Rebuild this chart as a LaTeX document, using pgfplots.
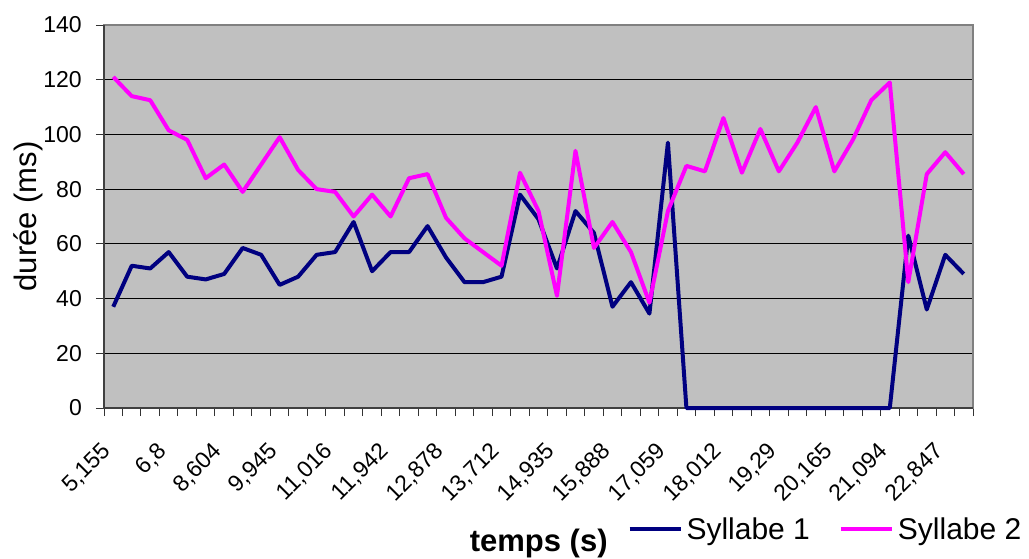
\documentclass[border=0pt]{standalone}
\usepackage{fontspec}
\setmainfont{Liberation Sans}
\usepackage{pgfplots}
\usepackage{pgfplotstable}
\pgfplotsset{compat=1.18}

\definecolor{fondgris}{RGB}{192,192,192}
\definecolor{bordgris}{RGB}{128,128,128}
\definecolor{syllabeun}{RGB}{0,0,128}
\definecolor{syllabedeux}{RGB}{255,0,255}

% i = category index, s1 = Syllabe 1, s2 = Syllabe 2 (ms)
\pgfplotstableread{
i  s1    s2
0  37    121
1  52    114
2  51    112.5
3  57    101.5
4  48    98
5  47    84
6  49    89
7  58.5  79
8  56    89
9  45    99
10 48    87
11 56    80
12 57    79
13 68    70
14 50    78
15 57    70
16 57    84
17 66.5  85.5
18 55    69.5
19 46    62
20 46    57
21 48    52
22 78    86
23 69    72
24 51    41
25 72    94
26 64    58.5
27 37    68
28 46    57
29 34.5  38.5
30 97    72
31 0     88.5
32 0     86.5
33 0     106
34 0     86
35 0     102
36 0     86.5
37 0     97
38 0     110
39 0     86.5
40 0     98
41 0     112.5
42 0     119
43 63    46
44 36    85.5
45 56    93.5
46 49    85.5
}\durees

\begin{document}
\begin{tikzpicture}
\useasboundingbox (0,0) rectangle (1029pt,558pt);
\begin{axis}[
  at={(104pt,150pt)}, anchor=south west,
  width=869pt, height=383pt, scale only axis,
  xmin=-0.5, xmax=46.5, ymin=0, ymax=140,
  clip=false,
  axis background/.style={fill=fondgris},
  axis line style={bordgris, line width=1.2pt},
  tick pos=left,
  tick align=outside,
  major tick length=8pt,
  tick style={black!80, line width=1pt},
  ytick={0,20,...,140},
  ymajorgrids, grid style={black, line width=0.8pt},
  /pgf/number format/assume math mode=true,
  yticklabel style={font=\fontsize{23}{23}\selectfont, inner sep=0pt, anchor=east, xshift=-14pt},
  xtick={-0.5,0.5,...,46.5}, xticklabels={},
  xticklabel style={font=\fontsize{23}{23}\selectfont},
  extra x ticks={0,3,...,45},
  extra x tick labels={{5,155},{6,8},{8,604},{9,945},{11,016},{11,942},{12,878},{13,712},{14,935},{15,888},{17,059},{18,012},{19,29},{20,165},{21,094},{22,847}},
  extra x tick style={major tick length=0pt,
    tick label style={font=\fontsize{23}{23}\selectfont, inner sep=0pt, xshift=-12.5pt, yshift=-33pt, rotate=45, anchor=north east}},
  ylabel={\fontsize{31}{31}\selectfont durée (ms)},
  y label style={at={(axis description cs:-0.0771,0.5)}, anchor=base},
  xlabel={\fontsize{31}{31}\selectfont\bfseries temps (s)},
  x label style={at={(axis description cs:0.5003,-0.3752)}, anchor=base},
  legend columns=2,
  legend style={at={(axis description cs:0.6022,-0.3167)}, anchor=west, draw=none, fill=none,
    inner sep=0pt, font=\fontsize{30}{30}\selectfont, nodes={inner sep=0pt},
    /tikz/every odd column/.append style={column sep=4pt},
    /tikz/every even column/.append style={column sep=29pt}},
  legend image code/.code={\draw[#1, line width=4pt] (0pt,0pt) -- (51pt,0pt);},
  every axis plot/.append style={line width=4pt, line join=round, no markers},
]
\draw[black!75, line width=2pt] (rel axis cs:0,1) -- (rel axis cs:0,0) -- (rel axis cs:1,0);
\addplot[syllabeun] table[x=i, y=s1] {\durees};
\addplot[syllabedeux] table[x=i, y=s2] {\durees};
\legend{Syllabe 1, Syllabe 2}
\end{axis}
\end{tikzpicture}
\end{document}
